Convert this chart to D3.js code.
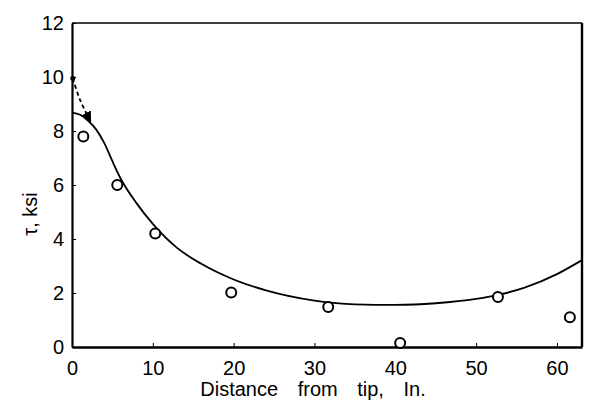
<!DOCTYPE html>
<html>
<head>
<meta charset="utf-8">
<script src="https://cdn.jsdelivr.net/npm/d3@7"></script>
<style>
  body { margin: 0; background: #fff; }
  text { font-family: "Liberation Sans", Arial, sans-serif; fill: #000; }
</style>
</head>
<body>
<svg id="chart"></svg>
<script>
const width = 595;
const height = 416;

// measured points (open circles)
const pointX = [1.4, 5.6, 10.3, 19.7, 31.7, 40.6, 52.7, 61.6];
const pointY = [7.8, 6.0, 4.2, 2.02, 1.48, 0.15, 1.85, 1.1];

// fitted solid curve
const curveX = [0, 1, 2, 3, 4, 5, 6, 8, 10, 13, 16, 20, 24, 30, 35, 40, 45, 50, 53, 56, 60, 63];
const curveY = [8.68, 8.6, 8.38, 8.05, 7.55, 6.88, 6.25, 5.32, 4.56, 3.67, 3.08, 2.5, 2.1, 1.72, 1.58, 1.56, 1.62, 1.78, 1.95, 2.2, 2.7, 3.2];

// dashed arrow near tip
const dashX = [0.1, 1.0, 2.3];
const dashY = [9.95, 9.15, 8.35];

const xTicks = [0, 10, 20, 30, 40, 50, 60];
const yTicks = [0, 2, 4, 6, 8, 10, 12];

const margin = { top: 23, right: 13, bottom: 69, left: 72 };

const svg = d3.select("#chart")
  .attr("width", width)
  .attr("height", height);

const x = d3.scaleLinear().domain([0, 63.1]).range([margin.left, width - margin.right]);
const y = d3.scaleLinear().domain([0, 12]).range([height - margin.bottom, margin.top]);

// frame: top thin, others heavier
svg.append("line")
  .attr("x1", x(0)).attr("x2", x(63.1))
  .attr("y1", y(12)).attr("y2", y(12))
  .attr("stroke", "#000").attr("stroke-width", 1.6);
svg.append("line")
  .attr("x1", x(63.1)).attr("x2", x(63.1))
  .attr("y1", y(12)).attr("y2", y(0))
  .attr("stroke", "#000").attr("stroke-width", 2.4);

// axes with inward ticks
const xAxis = svg.append("g")
  .attr("transform", `translate(0,${y(0)})`)
  .call(d3.axisBottom(x).tickValues(xTicks).tickSizeInner(-4).tickSizeOuter(0).tickPadding(14));
xAxis.select(".domain").attr("stroke-width", 2.6);
xAxis.selectAll("text").attr("font-size", 20).attr("dy", "0.71em").attr("fill", "#000");

const yAxis = svg.append("g")
  .attr("transform", `translate(${x(0)},0)`)
  .call(d3.axisLeft(y).tickValues(yTicks).tickSizeInner(-4).tickSizeOuter(0).tickPadding(8));
yAxis.select(".domain").attr("stroke-width", 2.2);
yAxis.selectAll("text").attr("font-size", 20).attr("fill", "#000");

// axis titles
svg.append("text")
  .attr("x", 313)
  .attr("y", 396)
  .attr("text-anchor", "middle")
  .attr("font-size", 20)
  .attr("fill", "#000")
  .style("word-spacing", "14px")
  .text("Distance from tip, In.");

svg.append("text")
  .attr("transform", "translate(37,214) rotate(-90)")
  .attr("text-anchor", "middle")
  .attr("font-size", 20)
  .attr("fill", "#000")
  .text("τ, ksi");

// solid curve
const curveData = curveX.map((d, i) => [d, curveY[i]]);
svg.append("path")
  .datum(curveData)
  .attr("fill", "none")
  .attr("stroke", "#000")
  .attr("stroke-width", 1.8)
  .attr("d", d3.line().x(d => x(d[0])).y(d => y(d[1])).curve(d3.curveMonotoneX));

// dashed arrow
svg.append("defs").append("marker")
  .attr("id", "arrow")
  .attr("viewBox", "0 0 10 10")
  .attr("refX", 9).attr("refY", 5)
  .attr("markerWidth", 6).attr("markerHeight", 6)
  .attr("orient", "auto")
  .append("path")
  .attr("d", "M0,0L10,5L0,10z")
  .attr("fill", "#000");

const dashData = dashX.map((d, i) => [d, dashY[i]]);
svg.append("path")
  .datum(dashData)
  .attr("fill", "none")
  .attr("stroke", "#000")
  .attr("stroke-width", 1.8)
  .attr("stroke-dasharray", "4,3")
  .attr("marker-end", "url(#arrow)")
  .attr("d", d3.line().x(d => x(d[0])).y(d => y(d[1])).curve(d3.curveCatmullRom));

svg.append("circle")
  .attr("cx", x(dashX[0])).attr("cy", y(dashY[0]))
  .attr("r", 2.5).attr("fill", "#000");

// open circles
svg.selectAll("circle.pt")
  .data(pointX.map((d, i) => [d, pointY[i]]))
  .enter()
  .append("circle")
  .attr("class", "pt")
  .attr("cx", d => x(d[0]))
  .attr("cy", d => y(d[1]))
  .attr("r", 5)
  .attr("fill", "#fff")
  .attr("stroke", "#000")
  .attr("stroke-width", 2);
</script>
</body>
</html>
